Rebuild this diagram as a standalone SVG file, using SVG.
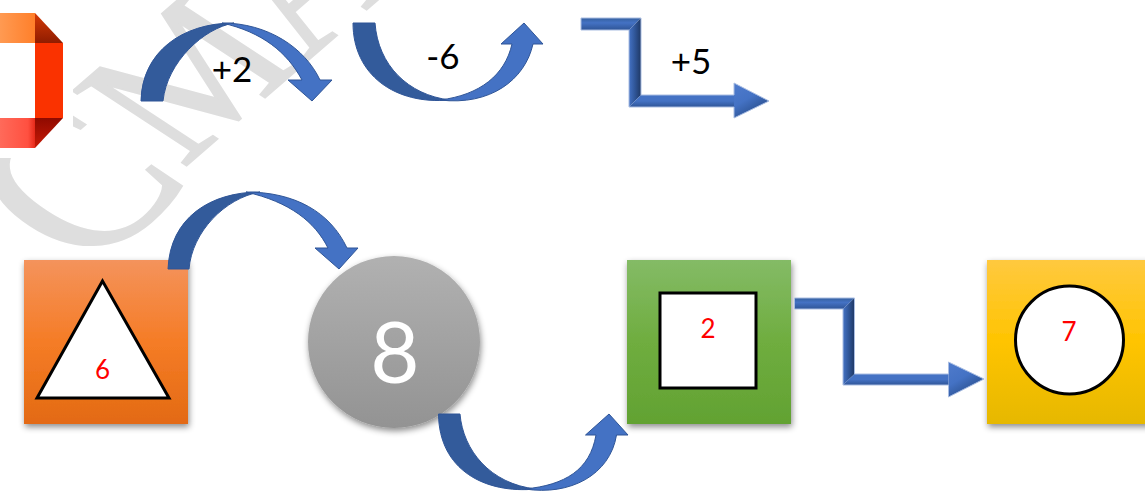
<svg xmlns="http://www.w3.org/2000/svg" width="1145" height="491" viewBox="0 0 1145 491">
<style>
.lbl{font-family:Lato,"Noto Sans",sans-serif;font-size:35px;fill:#000;text-anchor:middle}
.red{font-family:Lato,"Noto Sans",sans-serif;font-size:26px;fill:#f00;text-anchor:middle}
.dk{fill:#335b9b;stroke:#2f5597;stroke-width:1}
.lt{fill:#4472c4;stroke:#2f5597;stroke-width:1}
.shape{stroke:#000;stroke-width:3;fill:#fff}
.bt{fill:url(#bTop)}
.bv{fill:url(#bVert)}
.bb{fill:url(#bBot)}
.bh{fill:url(#bHead)}
.bo{fill:none;stroke:#a9bde2;stroke-width:1}
</style>
<defs>
<linearGradient id="gO" x1="0" y1="0" x2="0" y2="1"><stop offset="0" stop-color="#f4935c"/><stop offset=".5" stop-color="#f57c26"/><stop offset="1" stop-color="#e36a14"/></linearGradient>
<linearGradient id="gG" x1="0" y1="0" x2="0" y2="1"><stop offset="0" stop-color="#84bb66"/><stop offset=".5" stop-color="#6fad3f"/><stop offset="1" stop-color="#62a232"/></linearGradient>
<linearGradient id="gY" x1="0" y1="0" x2="0" y2="1"><stop offset="0" stop-color="#ffc93f"/><stop offset=".5" stop-color="#ffc400"/><stop offset="1" stop-color="#e6b800"/></linearGradient>
<linearGradient id="gC" x1="0" y1="0" x2="0" y2="1"><stop offset="0" stop-color="#b1b1b1"/><stop offset="1" stop-color="#939393"/></linearGradient>
<linearGradient id="gT" x1="0" y1="0" x2="1" y2="0"><stop offset="0" stop-color="#ff9a52"/><stop offset="1" stop-color="#ff7f2a"/></linearGradient>
<linearGradient id="gB" x1="0" y1="0" x2="1" y2="0"><stop offset="0" stop-color="#ff6a5a"/><stop offset=".8" stop-color="#ff5040"/><stop offset="1" stop-color="#e62a1a"/></linearGradient>
<linearGradient id="gC1" x1="0" y1="0" x2="0" y2="1"><stop offset="0" stop-color="#d63a06"/><stop offset="1" stop-color="#8f1c00"/></linearGradient>
<linearGradient id="gC2" x1="0" y1="0" x2="0" y2="1"><stop offset="0" stop-color="#8f0a00"/><stop offset="1" stop-color="#c81a06"/></linearGradient>
<linearGradient id="bTop" x1="0" y1="0" x2="0" y2="1"><stop offset="0" stop-color="#35609f"/><stop offset=".4" stop-color="#4472c4"/><stop offset="1" stop-color="#2f5597"/></linearGradient>
<linearGradient id="bVert" x1="0" y1="0" x2="1" y2="0"><stop offset="0" stop-color="#4472c4"/><stop offset=".5" stop-color="#2f5597"/><stop offset="1" stop-color="#1f3864"/></linearGradient>
<linearGradient id="bBot" x1="0" y1="0" x2="0" y2="1"><stop offset="0" stop-color="#4472c4"/><stop offset=".5" stop-color="#4472c4"/><stop offset="1" stop-color="#2f5597"/></linearGradient>
<linearGradient id="bHead" x1="0" y1="0" x2=".6" y2="1"><stop offset="0" stop-color="#4f7bcc"/><stop offset=".5" stop-color="#4472c4"/><stop offset="1" stop-color="#264a85"/></linearGradient>
<filter id="sh" x="-15%" y="-15%" width="130%" height="130%"><feDropShadow dx="1" dy="3" stdDeviation="3" flood-color="#000" flood-opacity=".45"/></filter>
</defs>
<rect width="1145" height="491" fill="#fff"/>
<text transform="matrix(.67 -.58 .84 .55 90 249)" font-family="'Liberation Serif',serif" font-size="207" fill="#dedede" stroke="#dedede" stroke-width="2"><tspan x="-25" y="18" font-size="240">C</tspan><tspan x="138" y="0">MA</tspan></text>
<g id="logo">
<rect x="0" y="0" width="73" height="158" fill="#fff"/>
<polygon points="0,13 35,13 35,43 0,43" fill="url(#gT)"/>
<polygon points="35,13 63,43 35,43" fill="url(#gC1)"/>
<polygon points="35,43 63,43 63,118 35,118" fill="#fa3200"/>
<polygon points="35,118 63,118 35,148" fill="url(#gC2)"/>
<polygon points="0,118 35,118 35,148 0,148" fill="url(#gB)"/>
</g>
<g id="node-triangle">
<rect x="24" y="260" width="164" height="164" fill="url(#gO)" filter="url(#sh)"/>
<polygon class="shape" points="102.5,281 37,398 169,398"/>
<text class="red" x="102.500" y="379">6</text>
</g>
<g id="node-eight">
<circle cx="394" cy="342" r="86" fill="url(#gC)" filter="url(#sh)"/>
<text x="395" y="383" font-family="Lato,'Noto Sans',sans-serif" font-size="85" fill="#fff" text-anchor="middle">8</text>
</g>
<g id="node-square">
<rect x="627" y="260" width="164" height="164" fill="url(#gG)" filter="url(#sh)"/>
<rect class="shape" x="660" y="293" width="96" height="95"/>
<text class="red" x="708" y="338">2</text>
</g>
<g id="node-circle">
<rect x="987" y="260" width="164" height="164" fill="url(#gY)" filter="url(#sh)"/>
<circle class="shape" cx="1069.500" cy="340" r="54"/>
<text class="red" x="1069" y="341">7</text>
</g>
<g id="connectors">
<g id="arc-plus2">
<path class="dk" d="M141 101C142 52 182 23 234 23C204 28 167 62 163 101Z"/>
<path class="lt" d="M222 23C268 23 305 48 320 80H332L312 101L288 80H302C287 52 262 32 222 23Z"/>
</g>
<g id="arc-minus6">
<path class="dk" d="M353 23H375C378 65 408 95 450 100C395 105 353 75 353 23Z"/>
<path class="lt" d="M440 100C480 95 505 75 512 44H501L524 23L543 44H533C525 80 490 106 440 100Z"/>
</g>
<g id="bent-plus5">
<polygon class="bt" points="581,18 641,18 629,30 581,30"/>
<polygon class="bv" points="641,18 641,95 629,107 629,30"/>
<polygon class="bb" points="629,107 641,95 734,95 734,107"/>
<polygon class="bh" points="734,83 769,101 734,118"/>
<polygon class="bo" points="581,18 641,18 641,95 734,95 734,83 769,101 734,118 734,107 629,107 629,30 581,30"/>
</g>
<g id="arc-triangle-eight">
<path class="dk" d="M168 269C170 218 210 192 260 192C225 198 192 232 189 269Z"/>
<path class="lt" d="M246 192C295 192 330 212 347 248H358L339 269L315 248H328C315 222 290 202 246 192Z"/>
</g>
<g id="arc-eight-square">
<path class="dk" d="M438.500 414H460C463 450 490 484 536 489C485 494 439 470 438.500 414Z"/>
<path class="lt" d="M525 489C565 485 590 470 596 435H585.500L609 414L628 435H616.500C610 475 570 496 525 489Z"/>
</g>
<g id="bent-square-circle">
<polygon class="bt" points="794.500,298 854.500,298 843,309 794.500,309"/>
<polygon class="bv" points="854.500,298 854.500,374 843,385 843,309"/>
<polygon class="bb" points="843,385 854.500,374 948.500,374 948.500,385"/>
<polygon class="bh" points="948.500,362 984,379 948.500,397"/>
<polygon class="bo" points="794.500,298 854.500,298 854.500,374 948.500,374 948.500,362 984,379 948.500,397 948.500,385 843,385 843,309 794.500,309"/>
</g>
</g>
<text class="lbl" x="232" y="82">+2</text>
<text class="lbl" x="443" y="69">-6</text>
<text class="lbl" x="691" y="74">+5</text>
</svg>
